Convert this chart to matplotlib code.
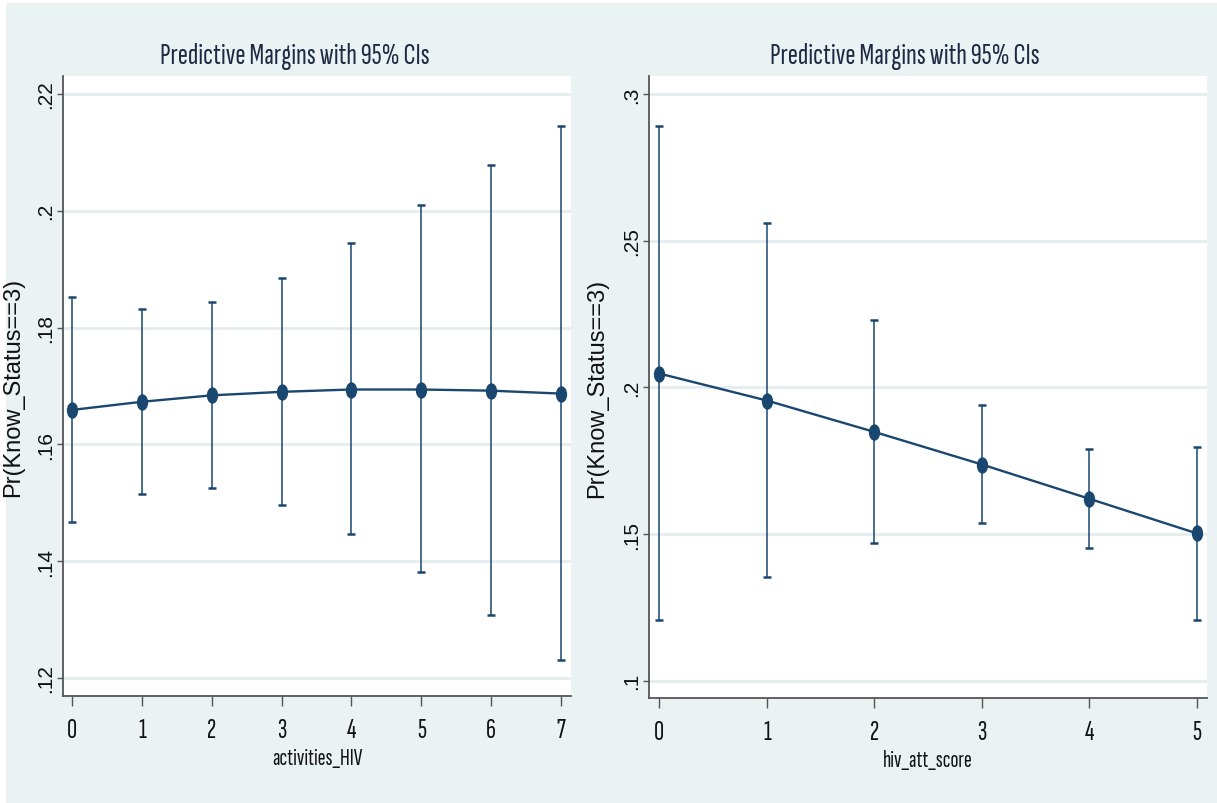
import numpy as np
import matplotlib
matplotlib.use("Agg")
import matplotlib.pyplot as plt
from matplotlib.path import Path
from matplotlib.transforms import Affine2D
from matplotlib.patches import Rectangle

# left panel: activities_HIV
act_x = [0, 1, 2, 3, 4, 5, 6, 7]
act_margin = [0.1659, 0.1673, 0.1684, 0.1690, 0.1694, 0.1694, 0.1692, 0.1687]
act_lo = [0.1467, 0.1515, 0.1526, 0.1497, 0.1446, 0.1381, 0.1308, 0.1231]
act_hi = [0.1853, 0.1832, 0.1843, 0.1885, 0.1944, 0.2010, 0.2078, 0.2145]
act_yticks = [0.12, 0.14, 0.16, 0.18, 0.20, 0.22]
act_ylabels = [".12", ".14", ".16", ".18", ".2", ".22"]

# right panel: hiv_att_score
att_x = [0, 1, 2, 3, 4, 5]
att_margin = [0.2047, 0.1955, 0.1848, 0.1737, 0.1620, 0.1502]
att_lo = [0.1208, 0.1352, 0.1469, 0.1536, 0.1452, 0.1208]
att_hi = [0.2892, 0.2560, 0.2231, 0.1939, 0.1789, 0.1797]
att_yticks = [0.10, 0.15, 0.20, 0.25, 0.30]
att_ylabels = [".1", ".15", ".2", ".25", ".3"]

title = "Predictive Margins with 95% CIs"
ylab = "Pr(Know_Status==3)"

NAVY = "#1a476f"
BG = "#eaf2f3"
GRID = "#e3ecee"
NARROW = ["Sofia Sans Extra Condensed", "DejaVu Sans"]
WIDE = ["Liberation Sans", "DejaVu Sans"]

W, H = 1217, 804
fig = plt.figure(figsize=(W / 100, H / 100), dpi=100, facecolor="white")
fig.patches.append(Rectangle((6 / W, 0), 1, 1 - 4 / H, transform=fig.transFigure,
                             facecolor=BG, edgecolor="none", zorder=-10))

# tall ellipse marker (the source picture is squeezed sideways)
ell = Path.unit_circle().transformed(Affine2D().scale(0.66, 1.0))


def px_axes(x0, x1, top, bot):
    return fig.add_axes([x0 / W, 1 - bot / H, (x1 - x0) / W, (bot - top) / H])


def draw(ax, x, m, lo, hi, yticks, ylabels, xlim, ylim, xlabel, labx):
    m = np.array(m)
    err = [m - np.array(lo), np.array(hi) - m]
    ax.errorbar(x, m, yerr=err, fmt="none", ecolor=NAVY, elinewidth=1.1,
                capsize=3, capthick=1.8, zorder=3)
    ax.plot(x, m, color=NAVY, lw=1.7, marker=ell, ms=10.8, mfc=NAVY,
            mec=NAVY, zorder=4)
    ax.set_xlim(*xlim)
    ax.set_ylim(*ylim)
    ax.set_xticks(x)
    ax.set_xticklabels([str(v) for v in x], family=NARROW, fontsize=20,
                       color="#111111")
    ax.set_yticks(yticks)
    ax.set_yticklabels(ylabels, family=WIDE, fontsize=15, rotation=90,
                       va="center", color="#111111")
    ax.yaxis.grid(True, color=GRID, lw=2)
    ax.set_axisbelow(True)
    ax.set_facecolor("white")
    for s in ["top", "right"]:
        ax.spines[s].set_visible(False)
    for s in ["left", "bottom"]:
        ax.spines[s].set_color("#555555")
        ax.spines[s].set_linewidth(1.3)
    ax.tick_params(axis="both", width=1, color="#555555")
    ax.tick_params(axis="x", length=7.5, pad=8)
    ax.tick_params(axis="y", length=4.5, pad=1.5)
    ax.set_xlabel(xlabel, family=NARROW, fontsize=17, labelpad=4,
                  color="#111111")
    ax.set_ylabel(ylab, family=WIDE, fontsize=17, color="#111111")
    ax.yaxis.set_label_coords(labx, 0.5)


ax1 = px_axes(63, 571, 77, 697)
draw(ax1, act_x, act_margin, act_lo, act_hi, act_yticks, act_ylabels,
     (-0.129, 7.143), (0.11692, 0.22308), "activities_HIV", (24 - 63) / 508)

ax2 = px_axes(649, 1207, 77, 699)
draw(ax2, att_x, att_margin, att_lo, att_hi, att_yticks, att_ylabels,
     (-0.097, 5.093), (0.0941, 0.30614), "hiv_att_score", (608 - 649) / 558)

for cx in [295, 905]:
    fig.text(cx / W, 1 - 64 / H, title, ha="center", va="baseline",
             family=NARROW, fontsize=22, color="#1e2a44")

fig.savefig("out.png", dpi=100, facecolor=fig.get_facecolor())
